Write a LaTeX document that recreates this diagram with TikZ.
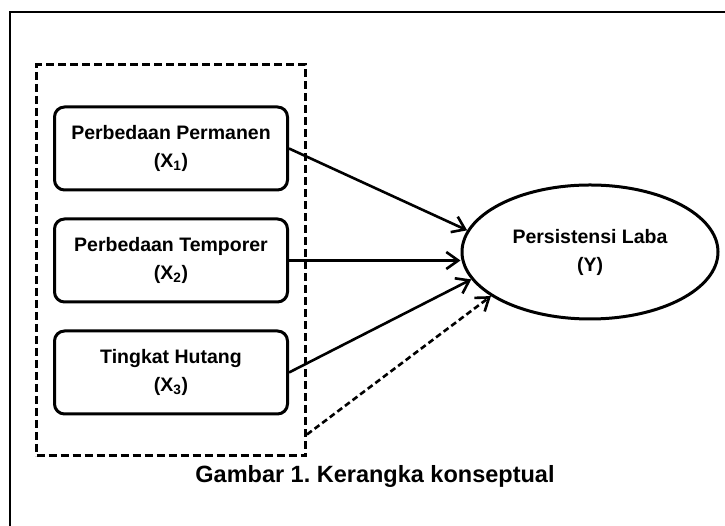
\documentclass[tikz,border=0pt]{standalone}
\usepackage{fontspec}
\setmainfont{Liberation Sans}
\usetikzlibrary{positioning,shapes.geometric,arrows.meta,fit}

\begin{document}
\begin{tikzpicture}[x=1pt, y=1pt, node distance = 26pt,
    VARBOX/.style = {rectangle, draw, line width=3pt,
                    rounded corners=10pt,
                    minimum width=233pt, minimum height=83pt,
                    font=\fontsize{19.5}{28}\selectfont\bfseries,
                    align=center, inner sep=0pt},
    LINK/.style = {line width=2.6pt,
                    -{Straight Barb[length=12pt,width=17pt]}}
                            ]

    \useasboundingbox (0,0) rectangle (725,526);
    \draw[line width=1.6pt] (10,0) -- (10,514) -- (725,514);

    \node (x1)  [VARBOX] at (171,377.5) {Perbedaan Permanen\\(X\textsubscript{1})};
    \node (x2)  [VARBOX, below=of x1]   {Perbedaan Temporer\\(X\textsubscript{2})};
    \node (x3)  [VARBOX, below=of x2]   {Tingkat Hutang\\(X\textsubscript{3})};
    \node (grp) [fit=(x1)(x3), draw, line width=3pt,
                 dash pattern=on 8pt off 4pt,
                 inner xsep=16.5pt, inner ysep=40.5pt] {};

    \node (y) [ellipse, draw, line width=3pt,
               minimum width=256pt, minimum height=134pt, inner sep=0pt,
               font=\fontsize{19.5}{28}\selectfont\bfseries,
               align=center] at (590,274) {Persistensi Laba\\(Y)};

    \draw[LINK] (x1.east) -- (y.170);
    \draw[LINK] (x2.east) -- (x2.east -| y.west);
    \draw[LINK] (x3.east) -- (y.193);
    % dashed link from the group frame
    \coordinate (gx) at ([yshift=23pt]grp.south east);
    \draw[LINK, dash pattern=on 6pt off 3.5pt] (gx) -- (y.204);

    \node (cap) [anchor=base, font=\fontsize{23.5}{28}\selectfont\bfseries]
          at (375,43) {Gambar 1.\ Kerangka konseptual};
\end{tikzpicture}
\end{document}
